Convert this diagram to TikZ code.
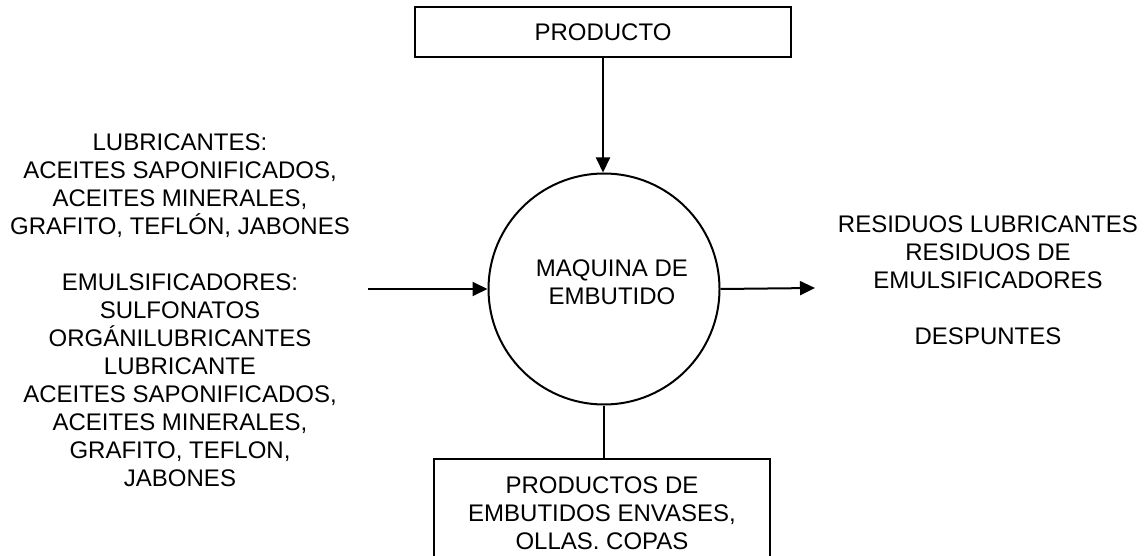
\documentclass[tikz,border=0pt]{standalone}
\usepackage{fontspec}
\setmainfont{Liberation Sans}
\usetikzlibrary{arrows.meta}
\begin{document}
\begin{tikzpicture}[x=1pt,y=-1pt,
  every node/.style={font=\fontsize{24}{28}\selectfont, inner sep=0pt},
  boxnode/.style={draw, line width=1.5pt, align=center},
  flow/.style={line width=2pt, -{Triangle[length=15pt,width=14pt]}},
  plainline/.style={line width=2pt}]
\useasboundingbox (0,0) rectangle (1144,556);
\clip (0,0) rectangle (1144,556);
\fill[white] (0,0) rectangle (1144,556);
\node[boxnode, minimum width=376pt, minimum height=50pt] (top) at (603,32) {PRODUCTO};
\node[draw, circle, line width=2pt, minimum size=231pt,
      label={[align=center, xshift=8pt, yshift=7pt]center:MAQUINA DE\\EMBUTIDO}] (m) at (604,289) {};
\node[boxnode, anchor=north, minimum width=336pt, minimum height=108pt] (bot) at (602,458)
  {PRODUCTOS DE\\EMBUTIDOS ENVASES,\\OLLAS. COPAS};
\node[align=center] (left) at (180,310.5) {LUBRICANTES:\\ACEITES SAPONIFICADOS,\\ACEITES MINERALES,\\GRAFITO, TEFLÓN, JABONES\\[28pt]EMULSIFICADORES:\\SULFONATOS\\ORGÁNILUBRICANTES\\LUBRICANTE\\ACEITES SAPONIFICADOS,\\ACEITES MINERALES,\\GRAFITO, TEFLON,\\JABONES};
\node[align=center] (right) at (988,280) {RESIDUOS LUBRICANTES\\RESIDUOS DE\\EMULSIFICADORES\\[28pt]DESPUNTES};
\coordinate (lin) at (368,289);
\coordinate (rout) at (815,288);
\draw[flow] (top.south) -- (top.south |- m.north);
\draw[flow] (lin) -- (m.west);
\draw[flow] (m.east) -- (rout);
\draw[plainline] (m.south) -- (m.south |- bot.north);
\end{tikzpicture}
\end{document}
